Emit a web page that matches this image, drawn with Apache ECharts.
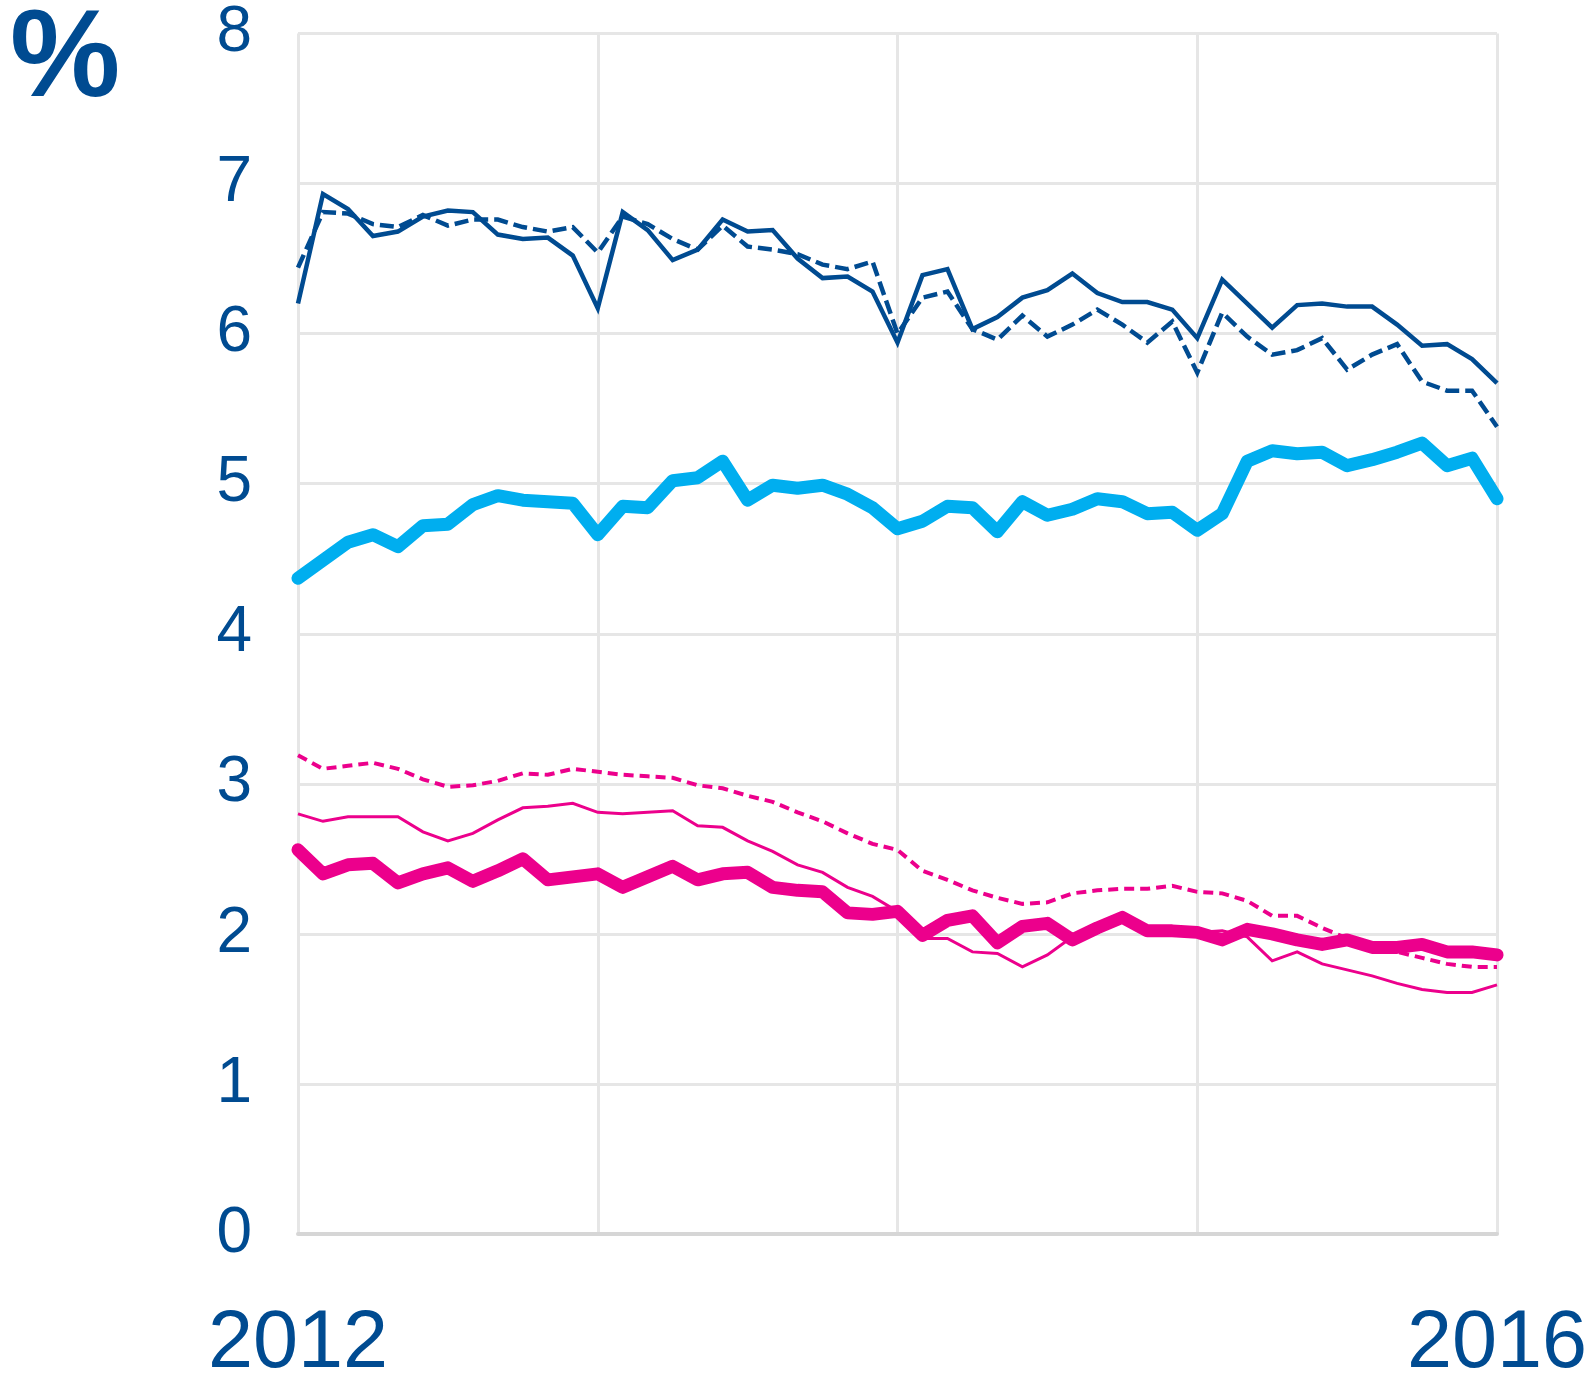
<!DOCTYPE html>
<html>
<head>
<meta charset="utf-8">
<script src="https://cdn.jsdelivr.net/npm/echarts@6/dist/echarts.min.js"></script>
<style>
  html, body { margin: 0; padding: 0; background: #fff; }
  #chart { width: 1594px; height: 1379px; }
</style>
</head>
<body>
<div id="chart"></div>
<script>
// monthly, Jan 2012 .. Jan 2016
const months = []
for (let y = 2012; y <= 2016; y++) {
  for (let m = 1; m <= 12; m++) {
    if (y === 2016 && m > 1) break
    months.push(y + '-' + (m < 10 ? '0' + m : m))
  }
}
const xTickLabels = { '2012-01': '2012', '2016-01': '2016' }
const yTicks = [0, 1, 2, 3, 4, 5, 6, 7, 8]

const darkSolid = [6.20, 6.93, 6.83, 6.65, 6.68, 6.78, 6.82, 6.81, 6.66, 6.63, 6.64, 6.52, 6.17,
  6.81, 6.69, 6.49, 6.56, 6.76, 6.68, 6.69, 6.50, 6.37, 6.38, 6.28, 5.94,
  6.39, 6.43, 6.03, 6.11, 6.24, 6.29, 6.40, 6.27, 6.21, 6.21, 6.16, 5.97,
  6.36, 6.20, 6.04, 6.19, 6.20, 6.18, 6.18, 6.06, 5.92, 5.93, 5.83, 5.67]
const darkDashed = [6.44, 6.81, 6.80, 6.73, 6.71, 6.79, 6.72, 6.76, 6.76, 6.71, 6.68, 6.71, 6.54,
  6.78, 6.73, 6.63, 6.56, 6.72, 6.58, 6.56, 6.53, 6.46, 6.43, 6.48, 6.00,
  6.24, 6.28, 6.03, 5.96, 6.12, 5.98, 6.06, 6.16, 6.06, 5.94, 6.08, 5.74,
  6.14, 5.98, 5.86, 5.89, 5.97, 5.76, 5.86, 5.93, 5.68, 5.62, 5.62, 5.38]
const cyanLine = [4.37, 4.49, 4.61, 4.66, 4.58, 4.72, 4.73, 4.86, 4.92, 4.89, 4.88, 4.87, 4.66,
  4.85, 4.84, 5.02, 5.04, 5.15, 4.89, 4.99, 4.97, 4.99, 4.93, 4.84, 4.70,
  4.75, 4.85, 4.84, 4.68, 4.88, 4.79, 4.83, 4.90, 4.88, 4.80, 4.81, 4.69,
  4.80, 5.15, 5.22, 5.20, 5.21, 5.12, 5.16, 5.21, 5.27, 5.12, 5.17, 4.90]
const pinkDashed = [3.19, 3.10, 3.12, 3.14, 3.10, 3.03, 2.98, 2.99, 3.02, 3.07, 3.06, 3.10, 3.08,
  3.06, 3.05, 3.04, 2.99, 2.97, 2.92, 2.88, 2.81, 2.75, 2.67, 2.60, 2.56,
  2.42, 2.36, 2.29, 2.24, 2.20, 2.21, 2.27, 2.29, 2.30, 2.30, 2.32, 2.28,
  2.27, 2.22, 2.12, 2.12, 2.04, 1.97, 1.92, 1.88, 1.84, 1.80, 1.78, 1.78]
const pinkThin = [2.80, 2.75, 2.78, 2.78, 2.78, 2.68, 2.62, 2.67, 2.76, 2.84, 2.85, 2.87, 2.81,
  2.80, 2.81, 2.82, 2.72, 2.71, 2.62, 2.55, 2.46, 2.41, 2.31, 2.25, 2.15,
  1.97, 1.97, 1.88, 1.87, 1.78, 1.86, 1.98, 2.06, 2.09, 2.03, 2.02, 2.01,
  2.02, 1.98, 1.82, 1.88, 1.80, 1.76, 1.72, 1.67, 1.63, 1.61, 1.61, 1.66]
const pinkThick = [2.56, 2.40, 2.46, 2.47, 2.34, 2.40, 2.44, 2.35, 2.42, 2.50, 2.36, 2.38, 2.40,
  2.31, 2.38, 2.45, 2.36, 2.40, 2.41, 2.31, 2.29, 2.28, 2.14, 2.13, 2.15,
  1.99, 2.09, 2.12, 1.94, 2.05, 2.07, 1.96, 2.04, 2.11, 2.02, 2.02, 2.01,
  1.96, 2.03, 2.00, 1.96, 1.93, 1.96, 1.91, 1.91, 1.93, 1.88, 1.88, 1.86]

const navy = '#004b91'
const cyan = '#00aeef'
const magenta = '#ec008c'
const gridColor = '#e6e6e6'
const font = 'Liberation Sans, Arial, sans-serif'

function line(name, data, color, width, dash, round) {
  return {
    name: name,
    type: 'line',
    data: data,
    symbol: 'none',
    smooth: false,
    animation: false,
    lineStyle: {
      color: color,
      width: width,
      type: dash || 'solid',
      cap: round ? 'round' : 'butt',
      join: round ? 'round' : 'miter'
    }
  }
}

const chart = echarts.init(document.getElementById('chart'))
chart.setOption({
  backgroundColor: '#fff',
  animation: false,
  graphic: [{
    type: 'text',
    left: 10,
    top: 0,
    style: {
      text: '%',
      fill: navy,
      font: 'bold 124px ' + font
    }
  }],
  grid: {
    left: 298,
    right: 97,
    top: 33.5,
    bottom: 145,
    containLabel: false,
    outerBoundsMode: 'none'
  },
  xAxis: {
    type: 'category',
    data: months,
    boundaryGap: false,
    axisLine: { show: true, lineStyle: { color: '#d6d6d6', width: 4 } },
    axisTick: { show: false },
    axisLabel: {
      interval: 0,
      margin: 70,
      color: navy,
      fontSize: 81,
      fontFamily: font,
      formatter: v => xTickLabels[v] || ''
    },
    splitLine: {
      show: true,
      interval: (i) => i % 12 === 0,
      lineStyle: { color: gridColor, width: 3 }
    }
  },
  yAxis: {
    type: 'value',
    min: yTicks[0],
    max: yTicks[yTicks.length - 1],
    interval: 1,
    axisLine: { show: false },
    axisTick: { show: false },
    axisLabel: {
      margin: 46,
      color: navy,
      fontSize: 64,
      fontFamily: font
    },
    splitLine: { lineStyle: { color: gridColor, width: 3 } }
  },
  series: [
    line('dark solid', darkSolid, navy, 4.5),
    line('dark dashed', darkDashed, navy, 4.5, [14, 6]),
    line('cyan', cyanLine, cyan, 13, null, true),
    line('pink dashed', pinkDashed, magenta, 4, [10, 6]),
    line('pink thin', pinkThin, magenta, 3),
    line('pink thick', pinkThick, magenta, 13, null, true)
  ]
})
</script>
</body>
</html>
